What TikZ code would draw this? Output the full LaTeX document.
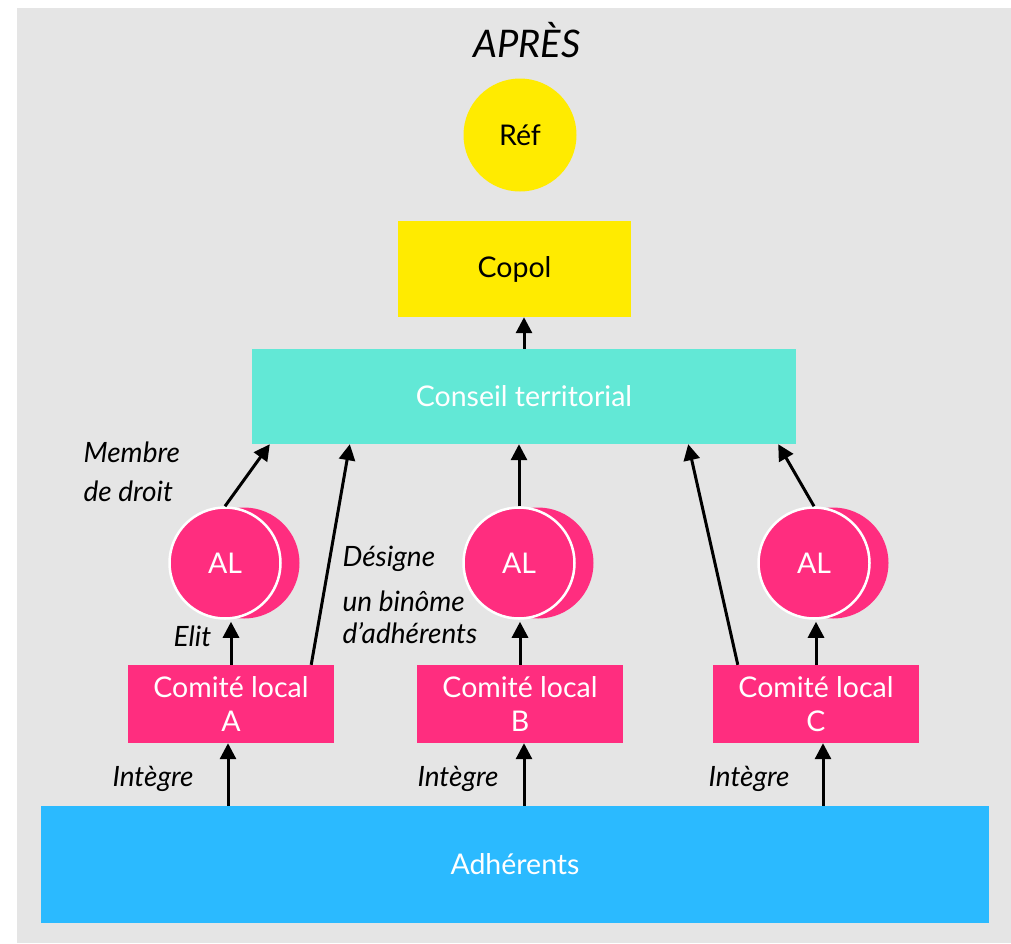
\documentclass[tikz,border=0pt]{standalone}
\usepackage{fontspec}
\setmainfont{Lato}
\usetikzlibrary{arrows.meta,shadows}

\definecolor{fond}{HTML}{E5E5E5}
\definecolor{jaune}{HTML}{FFEB00}
\definecolor{turquoise}{HTML}{62E8D6}
\definecolor{rose}{HTML}{FF2D7F}
\definecolor{bleu}{HTML}{2BBAFF}

\tikzset{
    boite/.style={rectangle, inner sep=0pt, text=white, align=center, font=\fontsize{28.5}{34}\selectfont},
    rond/.style={circle, inner sep=0pt, minimum size=113pt, font=\fontsize{28.5}{34}\selectfont},
    al/.style={rond, minimum size=111pt, fill=rose, draw=white, line width=2.5pt, text=white,
        general shadow={shadow xshift=19pt, fill=rose}},
    fleche/.style={-{Triangle[length=16pt,width=16pt]}, line width=3pt},
    legende/.style={font=\fontsize{28}{32}\selectfont\itshape, align=left, anchor=west}
}

\begin{document}
\begin{tikzpicture}[x=1pt,y=-1pt]
    \useasboundingbox (0,0) rectangle (1011,943);
    \fill[fond] (17,8) rectangle (1011,943);

    \node[font=\fontsize{38}{44}\selectfont\itshape] (titre) at (527,40) {APRÈS};
    \node[rond, fill=jaune] (ref) at (520,135) {Réf};
    \node[boite, fill=jaune, text=black, minimum width=233pt, minimum height=96pt] (copol) at (514.5,269) {Copol};
    \node[boite, fill=turquoise, minimum width=544pt, minimum height=95pt] (ct) at (524,396.5) {Conseil territorial};
    \node[boite, fill=bleu, minimum width=948pt, minimum height=117pt] (adh) at (515,864.5) {Adhérents};

    \foreach \n/\xa/\xc/\xi/\dx in {A/225/231/153/-3, B/519/520/458/4, C/814/816/749/7} {
        \node[al] (al\n) at (\xa,563) {AL};
        \node[boite, fill=rose, minimum width=206pt, minimum height=78pt] (cl\n) at (\xc,704) {Comité local\\ \n};
        \node[legende, anchor=center] (int\n) at (\xi,779) {Intègre};
        \draw[fleche] ([xshift=\dx pt]adh.north -| cl\n.south) -- ([xshift=\dx pt]cl\n.south);
        \draw[fleche, shorten >=2pt] (cl\n.north) -- (cl\n.north |- al\n.south);
    }

    \draw[fleche] (ct.north) -- (ct.north |- copol.south);
    \draw[fleche] (alA.north) -- ([xshift=18pt]ct.south west);
    \draw[fleche] (alB.north) -- (alB.north |- ct.south);
    \draw[fleche] (alC.north) -- ([xshift=-18pt]ct.south east);
    \draw[fleche] ([xshift=-23pt]clA.north east) -- ([xshift=98pt]ct.south west);
    \draw[fleche] ([xshift=25pt]clC.north west) -- ([xshift=-108pt]ct.south east);

    \node[legende, font=\fontsize{28}{39}\selectfont\itshape] (membre) at (80,472) {Membre\\de droit};
    \node[legende] (elit) at (170,636) {Elit};
    \node[legende] (designe) at (339,595) {Désigne\\[13pt]un binôme\\d’adhérents};
\end{tikzpicture}
\end{document}
